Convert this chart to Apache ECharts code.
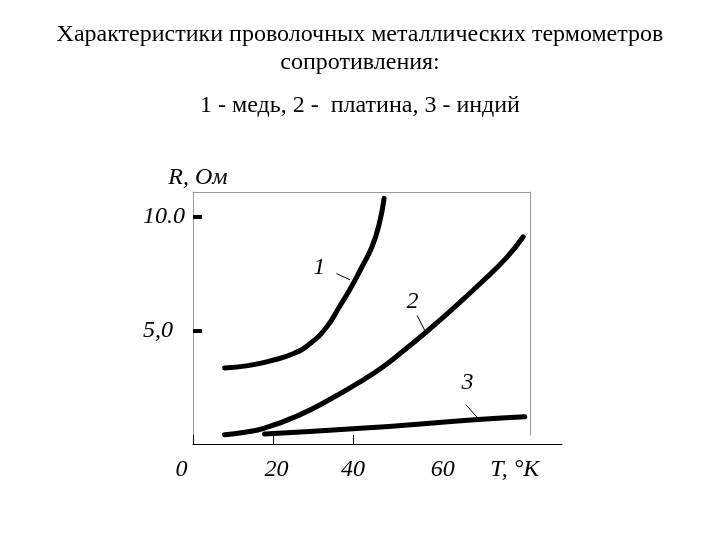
<!DOCTYPE html>
<html>
<head>
<meta charset="utf-8">
<script src="https://cdn.jsdelivr.net/npm/echarts@6/dist/echarts.min.js"></script>
<style>html,body{margin:0;padding:0;background:#fff}#c{width:720px;height:540px}</style>
</head>
<body>
<div id="c"></div>
<script>
// ---- data ----
const titleLines = ['Характеристики проволочных металлических термометров', 'сопротивления:'];
const subtitle = '1 - медь, 2 -  платина, 3 - индий';
const xTickValues = [0, 20, 40];
const xLabelValues = [0, 20, 40, 60, 80.4];
const xLabelTexts = ['0', '20', '40', '60', 'T, °K'];
const yTickValues = [5, 10];
const yLabelTexts = ['5,0', '10.0'];
const yName = 'R, Ом';
// curve 1 - copper: [T, R]
const copper = [[7.9,3.35],[13.75,3.45],[19.6,3.67],[25.0,3.97],[29.2,4.41],[33.35,5.14],[36.55,6.03],[39.3,6.83],[41.9,7.69],[44.7,8.67],[46.55,9.70],[47.75,10.81]];
// curve 2 - platinum
const platinum = [[7.9,0.41],[12.9,0.52],[17.9,0.70],[26.25,1.25],[34.6,2.0],[42.9,2.86],[47.5,3.40],[52.5,4.09],[58.35,4.94],[65.85,6.10],[71.7,7.05],[78.35,8.20],[82.5,9.12]];
// curve 3 - indium
const indium = [[17.9,0.44],[42.9,0.70],[71.25,1.08],[82.9,1.20]];
// curve number labels and leader lines
const curveLabels = [[31.7,7.72,'1'],[55.0,6.25,'2'],[68.7,2.66,'3']];
const leader1 = [[35.85,7.5],[39.2,7.23]];
const leader2 = [[56.0,5.66],[57.9,5.0]];
const leader3 = [[68.2,1.73],[71.25,1.12]];

const serif = "'Liberation Serif', 'Times New Roman', serif";
const chart = echarts.init(document.getElementById('c'));
const labelShift = {'0': [0,23,0,0], '20': [0,0,0,7], '40': [0,0,0,0], '60': [0,0,0,19], 'T, °K': [0,0,0,0]};
const rich = {};
xLabelTexts.forEach((t,i)=>{ rich['l'+i] = {padding: labelShift[t], fontFamily: serif, fontStyle:'italic', fontSize:24, color:'#000'}; });

const curveLine = (data) => ({
  type:'line', data, smooth:0.5, showSymbol:false, silent:true,
  lineStyle:{color:'#000', width:5, cap:'round', join:'round'}, xAxisIndex:0, yAxisIndex:0
});
const leaderLine = (data) => ({
  type:'line', data, showSymbol:false, silent:true,
  lineStyle:{color:'#000', width:1}, xAxisIndex:0, yAxisIndex:0
});
const frameAxis = {splitLine:{show:false}, axisTick:{show:false}, axisLabel:{show:false}, min:0, max:1, type:'value'};

chart.setOption({
  animation:false,
  backgroundColor:'#fff',
  title:[
    {text: titleLines.join('\n'), left:'center', top:16, textStyle:{fontFamily:serif, fontWeight:'normal', fontSize:24, color:'#000', lineHeight:28}},
    {text: subtitle, left:'center', top:89, textStyle:{fontFamily:serif, fontWeight:'normal', fontSize:24, color:'#000'}}
  ],
  grid:[
    {left:193, right:158, top:192, bottom:96},
    {left:193, right:190, top:192, bottom:105}
  ],
  xAxis:[
    {gridIndex:0, type:'value', min:0, max:92.2, splitLine:{show:false},
     axisLine:{show:true, onZero:false, lineStyle:{color:'#000', width:1}},
     axisTick:{show:true, inside:true, length:9, customValues:xTickValues, lineStyle:{color:'#000', width:1}},
     axisLabel:{show:true, customValues:xLabelValues, margin:14,
       formatter:(v)=>{const i = xLabelValues.indexOf(v); return i<0 ? '' : '{l'+i+'|'+xLabelTexts[i]+'}';}, rich}
    },
    Object.assign({gridIndex:1, position:'top', axisLine:{show:true, onZero:false, lineStyle:{color:'#999', width:1}}}, frameAxis)
  ],
  yAxis:[
    {gridIndex:0, type:'value', min:0, max:11.09, splitLine:{show:false},
     axisLine:{show:false, onZero:false},
     axisTick:{show:true, inside:true, length:9, customValues:yTickValues, lineStyle:{color:'#000', width:4}},
     axisLabel:{show:true, customValues:yTickValues, align:'left', margin:50,
       formatter:(v)=>{const i = yTickValues.indexOf(v); return i<0 ? '' : yLabelTexts[i];},
       fontFamily:serif, fontStyle:'italic', fontSize:24, color:'#000'},
     name:yName, nameLocation:'end', nameGap:2,
     nameTextStyle:{fontFamily:serif, fontStyle:'italic', fontSize:24, color:'#000', padding:[0,0,0,10]}
    },
    Object.assign({gridIndex:1, position:'left', axisLine:{show:true, onZero:false, lineStyle:{color:'#999', width:1}}}, frameAxis),
    Object.assign({gridIndex:1, position:'right', axisLine:{show:true, onZero:false, lineStyle:{color:'#999', width:1}}}, frameAxis)
  ],
  series:[
    curveLine(copper),
    curveLine(platinum),
    curveLine(indium),
    leaderLine(leader1),
    leaderLine(leader2),
    leaderLine(leader3),
    {type:'scatter', data:curveLabels, symbol:'circle', symbolSize:1, itemStyle:{color:'#fff', opacity:1}, silent:true, z:5,
     label:{show:true, position:[0,0], align:'center', verticalAlign:'middle', formatter:(p)=>p.value[2],
       fontFamily:serif, fontStyle:'italic', fontSize:24, color:'#000', textBorderWidth:0}}
  ]
});
</script>
</body>
</html>
